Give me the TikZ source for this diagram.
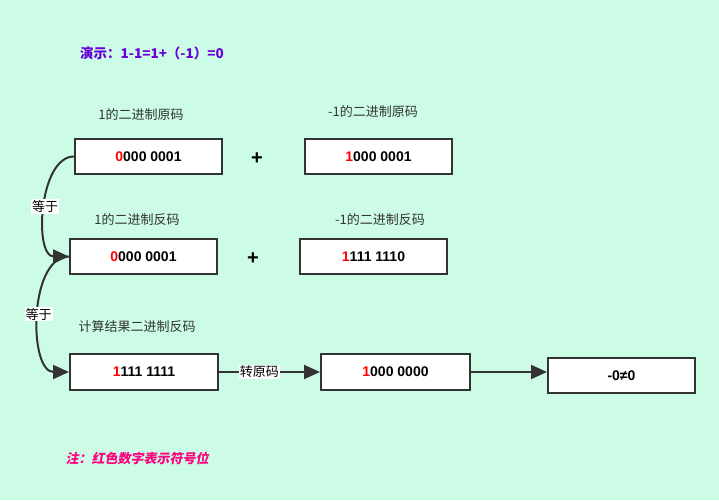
\documentclass[tikz,border=0pt]{standalone}
\usepackage{fontspec}
\setmainfont{Liberation Sans}
\newfontfamily\cjk{Noto Sans CJK SC}
\newfontfamily\cjkslant[FakeSlant=0.2]{Noto Sans CJK SC}
\usetikzlibrary{arrows.meta, positioning}
\definecolor{bgmint}{HTML}{CCFCE6}
\definecolor{edgegray}{HTML}{333333}
\definecolor{titlepurple}{HTML}{6A00D9}
\definecolor{notepink}{HTML}{FF007F}

\tikzset{
  codebox/.style={draw=edgegray, line width=2pt, fill=white, minimum width=147pt, minimum height=35pt, inner sep=0pt, font=\bfseries\fontsize{14}{16}\selectfont},
  caption/.style={font=\cjk\fontsize{13}{16}\selectfont, text=black!80},
  link/.style={draw=edgegray, line width=2pt, -{Triangle[length=16pt, width=14pt]}},
  linklabel/.style={fill=white, inner sep=1pt, font=\cjk\fontsize{13}{16}\selectfont}
}
\newcommand{\sign}[1]{\textcolor{red}{#1}}

\begin{document}
\begin{tikzpicture}[x=1pt, y=-1pt]
	\useasboundingbox[fill=bgmint] (0,0) rectangle (719,500);

	% title
	\node[font=\cjk\bfseries\fontsize{13.5}{16}\selectfont, text=titlepurple] (title) at (152,53) {演示：1-1=1+（-1）=0};

	% true codes
	\node[codebox] (posTrue) at (148.5,156.5) {\sign{0}000 0001};
	\node[codebox] (negTrue) at (378.5,156.5) {\sign{1}000 0001};
	\node[caption] (posTrueCap) at (141,115) {1的二进制原码};
	\node[caption] (negTrueCap) at (373,112) {-1的二进制原码};
	\node[font=\bfseries\fontsize{20}{22}\selectfont] (plusA) at (257,159) {+};

	% ones' complement
	\node[codebox] (posOnes) at (143.5,256.5) {\sign{0}000 0001};
	\node[codebox] (negOnes) at (373.5,256.5) {\sign{1}111 1110};
	\node[caption] (posOnesCap) at (137,220) {1的二进制反码};
	\node[caption] (negOnesCap) at (380,220) {-1的二进制反码};
	\node[font=\bfseries\fontsize{20}{22}\selectfont] (plusB) at (253,259) {+};

	% result
	\node[caption] (sumCap) at (137,327) {计算结果二进制反码};
	\node[codebox, minimum width=148pt, minimum height=36pt] (sumOnes) at (144,372) {\sign{1}111 1111};
	\node[codebox, minimum width=149pt, minimum height=36pt] (sumTrue) at (395.5,372) {\sign{1}000 0000};
	\node[codebox] (final) at (621.5,375.5) {-0≠0};

	% connectors
	\draw[link] (posTrue.west) to[out=180, in=180, looseness=0.9] node[linklabel, pos=0.5] {等于} (posOnes.west);
	\draw[link] (posOnes.west) to[out=180, in=180, looseness=0.9] node[linklabel, pos=0.5] {等于} (sumOnes.west);
	\draw[link] (sumOnes) -- node[linklabel, pos=0.4] {转原码} (sumTrue);
	\draw[link] (sumTrue.east) -- (final.west |- sumTrue.east);

	% note
	\node[font=\cjkslant\bfseries\fontsize{13}{16}\selectfont, text=notepink] (note) at (137,458) {注：红色数字表示符号位};
\end{tikzpicture}
\end{document}
